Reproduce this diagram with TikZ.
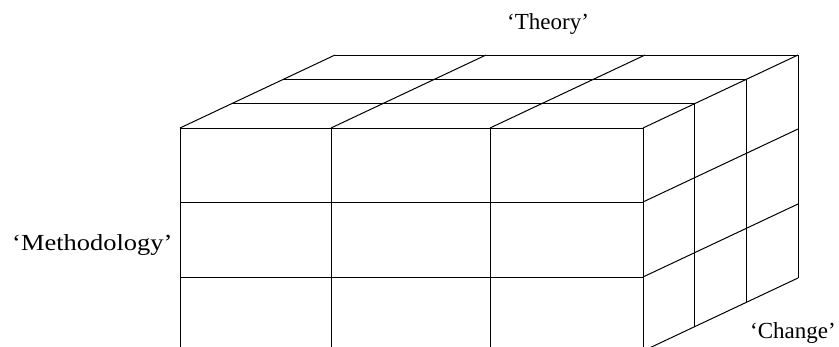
\documentclass[tikz,border=0pt]{standalone}
\usepackage{fontspec}
\setmainfont{Liberation Serif}
\begin{document}
\begin{tikzpicture}[x=1pt,y=-1pt,
  gridline/.style={line width=1pt, black},
  lbl/.style={font=\fontsize{23}{26}\selectfont, inner sep=0pt, anchor=base west}]
\useasboundingbox (0,0) rectangle (839,346);
\begin{scope}
\clip (0,0) rectangle (839,346);
% front face
\foreach \x in {180,331,490,643} \draw[gridline] (\x,128) -- (\x,351);
\foreach \y in {128,202,277} \draw[gridline] (180,\y) -- (643,\y);
% top face
\foreach \k in {1,2,3} \draw[gridline, shift={(51.67*\k,-24.33*\k)}] (180,128) -- (643,128);
\foreach \x in {180,331,490,643} \draw[gridline] (\x,128) -- ++(155,-73);
% right face
\foreach \y in {202,277,351} \draw[gridline] (643,\y) -- ++(155,-73);
\foreach \k in {1,2,3} \draw[gridline, shift={(51.67*\k,-24.33*\k)}] (643,128) -- (643,351);
\end{scope}
\node[lbl] (theory) at (507,29) {‘Theory’};
\node[lbl] (method) at (12,250) {\scalebox{1.15}[1]{‘Methodology’}};
\node[lbl] (change) at (750,338) {‘Change’};
\end{tikzpicture}
\end{document}
